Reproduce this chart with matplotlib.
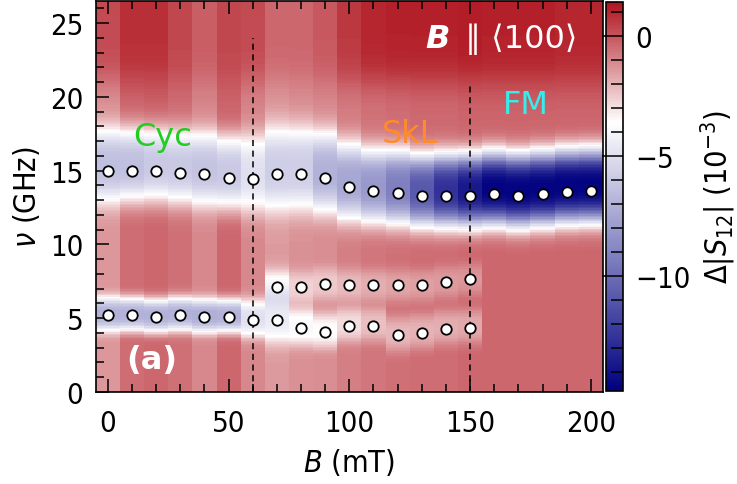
import numpy as np
import matplotlib
matplotlib.use("Agg")
import matplotlib.pyplot as plt
from matplotlib.colors import LinearSegmentedColormap
from matplotlib.ticker import MultipleLocator

plt.rcParams["font.family"] = ["DejaVu Sans"]
plt.rcParams["font.stretch"] = "condensed"
plt.rcParams["mathtext.fontset"] = "custom"
plt.rcParams["mathtext.rm"] = "DejaVu Sans:stretch=condensed"
plt.rcParams["mathtext.it"] = "DejaVu Sans:italic:stretch=condensed"
plt.rcParams["mathtext.bf"] = "DejaVu Sans:bold:stretch=condensed"

# ---- data -------------------------------------------------------------
B = np.arange(0, 201, 10)                      # field steps (mT)

# resonance positions (GHz)
nu_upper = [14.97, 15.0, 15.0, 14.86, 14.74, 14.52, 14.43, 14.74, 14.74, 14.52,
            13.89, 13.59, 13.50, 13.27, 13.27, 13.27, 13.39, 13.27, 13.39, 13.55, 13.59]
B_low = B[:16]
nu_low = [5.18, 5.18, 5.07, 5.18, 5.07, 5.07, 4.88, 4.88, 4.32, 4.05,
          4.46, 4.46, 3.82, 4.00, 4.27, 4.34]
B_mid = B[7:16]
nu_mid = [7.10, 7.10, 7.33, 7.21, 7.21, 7.21, 7.21, 7.44, 7.62]

# per-field background levels of Delta|S12| (1e-3)
bg_low = [-1.4, -0.5, -0.4, -0.6, -1.1, -0.4, -1.1, -1.5, -1.3, -1.2, -0.9,
          -0.7, -0.6, -0.5, -0.5, -0.4, -0.4, -0.4, -0.4, -0.4, -0.4]
bg_high = [0.2, 0.8, 0.8, 0.3, -0.2, 0.3, 0.2, -0.4, -0.4, -0.1, 0.6,
           1.0, 1.1, 1.1, 1.1, 1.2, 1.1, 1.1, 1.1, 1.0, 1.0]

# absorption depths and widths
depth_upper = [5.0, 5.9, 5.6, 5.4, 5.1, 5.6, 3.9, 4.3, 4.5, 5.8, 6.6,
               7.4, 8.6, 10.4, 12.1, 13.3, 14.2, 14.2, 14.2, 14.2, 14.2]
width_upper = [2.5, 2.5, 2.5, 2.5, 2.5, 2.5, 2.6, 2.8, 2.8, 2.7, 2.6,
               2.5, 2.5, 2.4, 2.4, 2.4, 2.4, 2.4, 2.4, 2.4, 2.4]
depth_low = [5.6, 6.5, 6.6, 6.4, 6.0, 6.6, 3.9, 3.0, 2.6, 2.4, 2.0, 1.6, 1.5, 1.5, 1.4, 1.4]
width_low = [1.15, 1.15, 1.15, 1.15, 1.15, 1.15, 1.3, 1.7, 1.3, 1.2, 1.2, 1.2, 1.2, 1.2, 1.2, 1.2]
depth_mid = [2.4, 1.4, 1.3, 1.3, 1.2, 1.1, 1.1, 1.0, 1.0]
width_mid = [1.2, 1.1, 1.1, 1.1, 1.1, 1.1, 1.1, 1.1, 1.1]

# ---- build the colour map field ---------------------------------------
nu = np.linspace(0, 26.5, 266)


def dip(f, f0, depth, width):
    return depth * np.exp(-np.abs((f - f0) / width) ** 3)


Z = np.empty((nu.size, B.size))
for j in range(B.size):
    col = bg_low[j] + (bg_high[j] - bg_low[j]) / (1 + np.exp(-(nu - 21.0) / 0.7))
    col = col - dip(nu, nu_upper[j] + 0.4, depth_upper[j], width_upper[j])
    if j < len(B_low):
        col = col - dip(nu, nu_low[j] + 0.1, depth_low[j], width_low[j])
    if B[j] in B_mid:
        k = list(B_mid).index(B[j])
        col = col - dip(nu, nu_mid[k], depth_mid[k], width_mid[k])
    Z[:, j] = col

cmap = LinearSegmentedColormap.from_list(
    "navy_white_red", [(0.0, "#000080"), (0.69, "#ffffff"), (1.0, "#b0141e")])

# ---- figure -----------------------------------------------------------
fig = plt.figure(figsize=(7.37, 4.85), dpi=100)
ax = fig.add_axes([0.130, 0.190, 0.688, 0.806])
cax = fig.add_axes([0.822, 0.192, 0.023, 0.802])

mesh = ax.pcolormesh(B, nu, Z, cmap=cmap, vmin=-14.8, vmax=1.4, shading="nearest")

for xb, ytop in [(60, 24.0), (150, 20.9)]:
    ax.plot([xb, xb], [0, ytop], color="black", lw=1.1, ls=(0, (4, 3)), zorder=3)

mk = dict(marker="o", ms=7.5, mfc="white", mec="black", mew=1.3, ls="none", zorder=4)
ax.plot(B, nu_upper, **mk)
ax.plot(B_low, nu_low, **mk)
ax.plot(B_mid, nu_mid, **mk)

ax.set_xlim(-5, 205)
ax.set_ylim(0, 26.5)
ax.xaxis.set_major_locator(MultipleLocator(50))
ax.xaxis.set_minor_locator(MultipleLocator(10))
ax.yaxis.set_major_locator(MultipleLocator(5))
ax.yaxis.set_minor_locator(MultipleLocator(1))
ax.tick_params(which="both", direction="in", top=True, right=False, width=1.1,
               labelsize=21, pad=9)
ax.tick_params(axis="x", which="both", pad=12)
ax.tick_params(which="major", length=9.5)
ax.tick_params(which="minor", length=5.5)
for s in ax.spines.values():
    s.set_linewidth(1.2)

ax.set_xlabel(r"$B$ (mT)", fontsize=22, labelpad=7)
ax.set_ylabel(r"$\nu$ (GHz)", fontsize=22, labelpad=6)

# phase labels and annotations
ann = dict(fontstretch="normal", ha="center", va="center")
ax.text(22.5, 17.3, "Cyc", color="#22cc22", fontsize=23, **ann)
ax.text(125, 17.5, "SkL", color="#ff8c2a", fontsize=23, **ann)
ax.text(173, 19.5, "FM", color="#33eeee", fontsize=23, **ann)
ax.text(141.5, 23.95, "B", color="white", fontsize=23, fontweight="bold",
        fontstyle="italic", fontstretch="normal", ha="right", va="center")
ax.text(194.5, 23.95, "\u2225 \u27e8100\u27e9", color="white", fontsize=23,
        fontstretch="normal", ha="right", va="center")
ax.text(18.2, 2.17, "(a)", color="white", fontsize=23, fontweight="bold", **ann)

cb = fig.colorbar(mesh, cax=cax)
cb.set_ticks([-10, -5, 0])
cb.ax.yaxis.set_minor_locator(MultipleLocator(1))
cb.ax.tick_params(which="both", direction="in", width=1.1, labelsize=21, pad=9)
cb.ax.tick_params(which="major", length=15)
cb.ax.tick_params(which="minor", length=9)
cb.outline.set_linewidth(1.2)
cb.set_label(r"$\Delta|S_{12}|$ (10$^{-3}$)", fontsize=22, labelpad=6)

fig.savefig("out.png", dpi=100)
